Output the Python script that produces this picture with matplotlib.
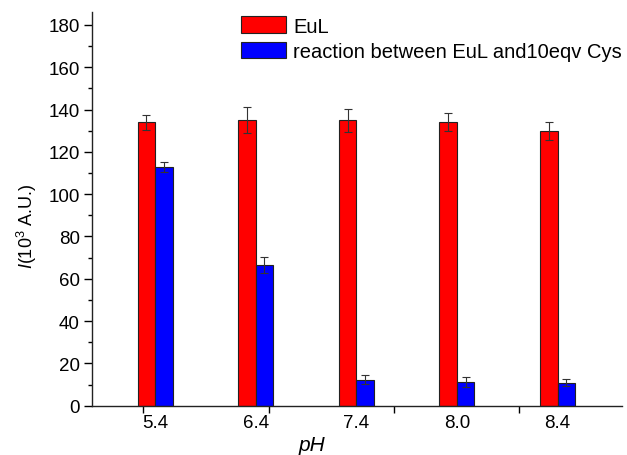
import matplotlib
matplotlib.use("Agg")
import matplotlib.pyplot as plt
from matplotlib.patches import Patch
import numpy as np

plt.rcParams.update({
    "font.family": ["Liberation Sans", "DejaVu Sans"],
    "font.size": 13,
    "mathtext.fontset": "custom",
    "mathtext.rm": "Liberation Sans",
    "mathtext.it": "Liberation Sans:italic",
})

# ---- data ----
ph_labels = ["5.4", "6.4", "7.4", "8.0", "8.4"]
eul = [134, 135, 135, 134, 130]
eul_err = [3.6, 6.3, 5.4, 4.2, 4.3]
cys = [113, 66.5, 12.3, 11.2, 10.9]
cys_err = [2.3, 3.6, 2.1, 2.2, 1.6]
legend_labels = ["EuL", "reaction between EuL and10eqv Cys"]

RED, BLUE, EDGE = "#ff0000", "#0000ff", "#222222"

fig = plt.figure(figsize=(6.27, 4.56), dpi=100)
ax = fig.add_axes([0.147, 0.108, 0.845, 0.863])

x = np.arange(len(ph_labels))
w = 0.174
ekw = dict(ecolor="#333333", elinewidth=0.8, capsize=3, capthick=0.8)
ax.bar(x - w / 2, eul, w, color=RED, edgecolor=EDGE, linewidth=0.8,
       yerr=eul_err, error_kw=ekw)
ax.bar(x + w / 2, cys, w, color=BLUE, edgecolor=EDGE, linewidth=0.8,
       yerr=cys_err, error_kw=ekw)

ax.set_xlim(-0.625, 4.64)
ax.set_ylim(0, 186)
ax.set_yticks(np.arange(0, 181, 20))
ax.set_yticks(np.arange(10, 181, 20), minor=True)
ax.tick_params(axis="y", which="major", length=6, width=1, direction="out", labelsize=13.5, pad=3)
ax.tick_params(axis="y", which="minor", length=3, width=1, direction="out")

# category labels without ticks, odd tick marks like the original
ax.set_xticks(x)
ax.set_xticklabels(ph_labels)
ax.tick_params(axis="x", which="major", length=0, labelsize=13.5, pad=6)
ax.set_xticks([-0.12, 1.13, 2.37, 3.62], minor=True)
ax.tick_params(axis="x", which="minor", length=5, width=1, direction="out")

for s in ("top", "right"):
    ax.spines[s].set_visible(False)
for s in ("left", "bottom"):
    ax.spines[s].set_linewidth(1.0)
    ax.spines[s].set_color("#222222")

fig.text(0.043, 0.504, r"$I$(10$^3$ A.U.)", rotation=90, ha="center", va="center", fontsize=13)
fig.text(0.498, 0.022, "pH", style="italic", ha="center", va="center", fontsize=15)

handles = [Patch(facecolor=RED, edgecolor=EDGE, linewidth=0.8),
           Patch(facecolor=BLUE, edgecolor=EDGE, linewidth=0.8)]
fig.legend(handles, legend_labels, loc="upper left", bbox_to_anchor=(0.384, 0.962),
           frameon=False, fontsize=14.5, handlelength=2.25, handleheight=0.9,
           handletextpad=0.35, labelspacing=0.3, borderpad=0, borderaxespad=0)

fig.savefig("out.png", dpi=100)
